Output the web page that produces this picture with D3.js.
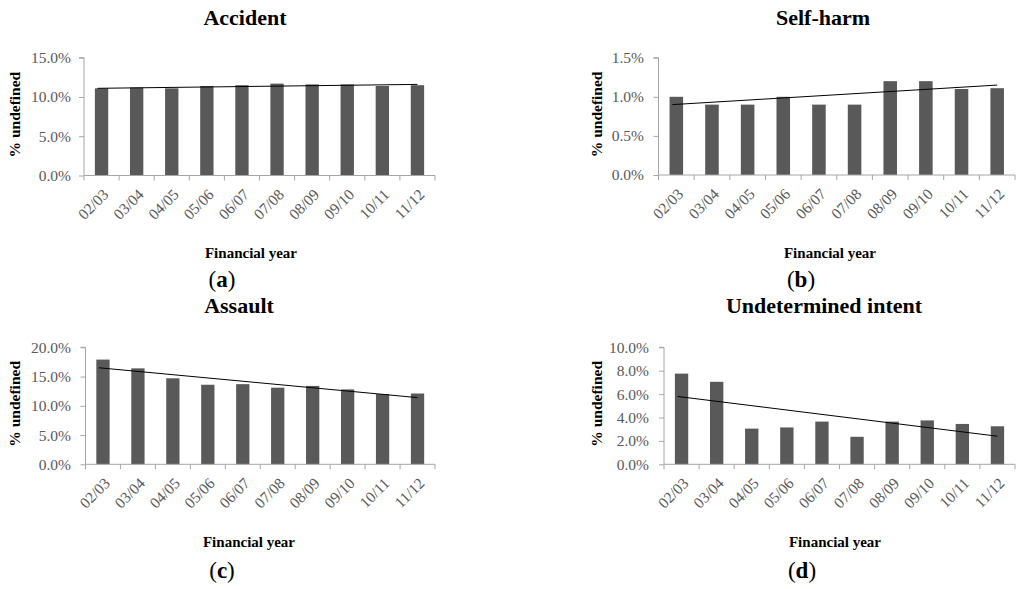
<!DOCTYPE html>
<html><head><meta charset="utf-8">
<script src="https://cdn.jsdelivr.net/npm/d3@7"></script>
<style>body{margin:0;background:#fff}svg{display:block}</style>
</head><body>
<svg id="c" width="1024" height="589"></svg>
<script>
const years = ["02/03","03/04","04/05","05/06","06/07","07/08","08/09","09/10","10/11","11/12"];
const accident = [11.1,11.2,11.1,11.4,11.5,11.7,11.6,11.6,11.4,11.5];
const selfHarm = [1.0,0.9,0.9,1.0,0.9,0.9,1.2,1.2,1.1,1.11];
const assault = [17.9,16.4,14.7,13.6,13.7,13.1,13.4,12.8,12.0,12.1];
const undetermined = [7.75,7.05,3.05,3.15,3.65,2.35,3.65,3.75,3.45,3.25];
const trendAccident = [11.1,11.6];
const trendSelfHarm = [0.9,1.15];
const trendAssault = [16.5,11.4];
const trendUndetermined = [5.8,2.4];
const titles = ["Accident","Self-harm","Assault","Undetermined intent"];
const letters = ["a","b","c","d"];
const yMaxes = [15,1.5,20,10];
const yTickSteps = [5,0.5,5,2];

const panels = [
  {data:accident, trend:trendAccident, x0:84, x1:435, yTop:57.7, yBot:175.5, titleX:245, titleY:25, ylabX:15, tickR:71, fyX:251, fyY:258, letX:222, letY:287},
  {data:selfHarm, trend:trendSelfHarm, x0:658.5, x1:1015, yTop:57.7, yBot:175, titleX:823, titleY:25, ylabX:597, tickR:644, fyX:830, fyY:258, letX:801, letY:287},
  {data:assault, trend:trendAssault, x0:85.5, x1:435, yTop:347.3, yBot:464.3, titleX:239, titleY:313, ylabX:15, tickR:71, fyX:249, fyY:547, letX:222, letY:578},
  {data:undetermined, trend:trendUndetermined, x0:664, x1:1015, yTop:347.3, yBot:464.3, titleX:824, titleY:313, ylabX:597, tickR:649, fyX:835, fyY:547, letX:802, letY:578}
];

const svg = d3.select("#c");
const serif = "'Liberation Serif','Times New Roman',serif";

panels.forEach((p,i)=>{
  const g = svg.append("g");
  const x = d3.scaleBand().domain(years).range([p.x0,p.x1]).paddingInner(0).paddingOuter(0);
  const y = d3.scaleLinear().domain([0,yMaxes[i]]).range([p.yBot,p.yTop]);
  const ticks = d3.range(0, yMaxes[i]+yTickSteps[i]/2, yTickSteps[i]);

  g.append("text").attr("x",p.titleX).attr("y",p.titleY).attr("text-anchor","middle")
    .attr("font-family",serif).attr("font-weight","bold").attr("font-size",22).attr("fill","#000").text(titles[i]);

  const yAxis = d3.axisLeft(y).tickValues(ticks).tickSize(5).tickPadding(p.x0 - p.tickR - 5)
    .tickFormat(d=>d.toFixed(1)+"%");
  const ya = g.append("g").attr("transform",`translate(${p.x0},0)`).call(yAxis);
  ya.select(".domain").attr("stroke","#a6a6a6").attr("d",`M-5,${p.yTop}H0V${p.yBot}`);
  ya.selectAll(".tick line").attr("stroke","#a6a6a6");
  ya.selectAll(".tick text").attr("font-family",serif).attr("font-size",15.5).attr("fill","#595959");

  const bw = x.bandwidth()*0.38;
  g.selectAll("rect.bar").data(p.data).enter().append("rect")
    .attr("x",(d,j)=>x(years[j])+x.bandwidth()/2-bw/2)
    .attr("width",bw)
    .attr("y",d=>y(d))
    .attr("height",d=>p.yBot-y(d))
    .attr("fill","#595959");

  const xAxis = d3.axisBottom(x).tickSize(0).tickFormat("");
  const xa = g.append("g").attr("transform",`translate(0,${p.yBot})`).call(xAxis);
  xa.select(".domain").attr("stroke","#a6a6a6").attr("d",`M${p.x0},0H${p.x1}`);
  const edges = years.map(d=>x(d)).concat([p.x1]);
  xa.selectAll("line.edge").data(edges).enter().append("line").attr("class","edge")
    .attr("x1",d=>d).attr("x2",d=>d).attr("y1",0).attr("y2",5).attr("stroke","#a6a6a6");
  g.selectAll("text.xl").data(years).enter().append("text")
    .attr("transform",d=>`translate(${x(d)+x.bandwidth()/2+8},${p.yBot+20}) rotate(-45)`)
    .attr("text-anchor","end").attr("font-family",serif).attr("font-size",15.5).attr("fill","#595959")
    .text(d=>d);

  const first = years[0], last = years[years.length-1];
  g.append("line")
    .attr("x1",x(first)+x.bandwidth()/2-4).attr("y1",y(p.trend[0]))
    .attr("x2",x(last)+x.bandwidth()/2).attr("y2",y(p.trend[1]))
    .attr("stroke","#000").attr("stroke-width",1);

  const yc = (p.yTop+p.yBot)/2 - 2;
  g.append("text").attr("transform",`translate(${p.ylabX+5},${yc}) rotate(-90)`).attr("text-anchor","middle")
    .attr("font-family",serif).attr("font-weight","bold").attr("font-size",15.5).attr("fill","#000").text("% undefined");

  g.append("text").attr("x",p.fyX).attr("y",p.fyY).attr("text-anchor","middle")
    .attr("font-family",serif).attr("font-weight","bold").attr("font-size",15).attr("fill","#000").text("Financial year");

  const t = g.append("text").attr("x",p.letX).attr("y",p.letY).attr("text-anchor","middle")
    .attr("font-family",serif).attr("font-size",23).attr("fill","#000");
  t.append("tspan").text("(");
  t.append("tspan").attr("font-weight","bold").text(letters[i]);
  t.append("tspan").text(")");
});
</script>
</body></html>
